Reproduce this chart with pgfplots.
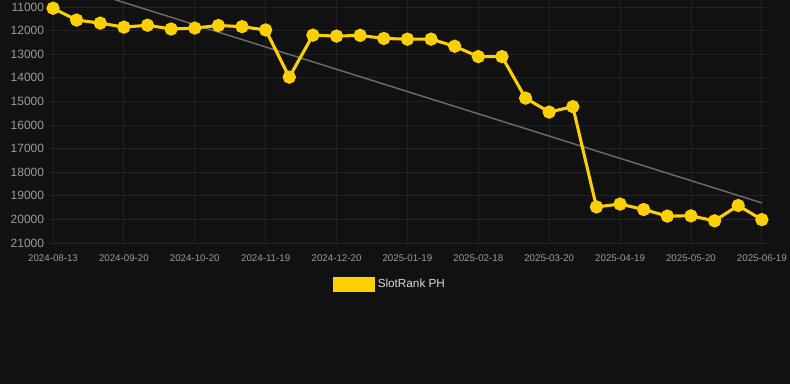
\documentclass[border=0pt]{standalone}
\usepackage{pgfplots}
\pgfplotsset{compat=1.18}
\usepackage{fontspec}
\setmainfont{Liberation Sans}
\definecolor{bg}{HTML}{111111}
\definecolor{ylw}{HTML}{FFD000}
\definecolor{grd}{HTML}{222222}
\definecolor{tck}{HTML}{9A9A9A}
\definecolor{trend}{HTML}{6A6A6A}
\begin{document}
\begin{tikzpicture}[x=1pt,y=1pt]
\useasboundingbox (0,0) rectangle (592.5,288);
\fill[bg] (0,0) rectangle (592.5,288);
\begin{axis}[
  at={(37.1pt,105.75pt)}, anchor=south west,
  scale only axis, width=539.6pt, height=182.25pt,
  xmin=-0.15, xmax=30.3,
  ymin=10700, ymax=21000, y dir=reverse,
  scaled y ticks=false,
  axis line style={draw=none},
  xtick={0,3,...,30},
  xticklabels={2024-08-13,2024-09-20,2024-10-20,2024-11-19,2024-12-20,2025-01-19,2025-02-18,2025-03-20,2025-04-19,2025-05-20,2025-06-19},
  ytick={11000,12000,...,21000},
  grid=major, major grid style={grd, line width=0.6pt},
  tick style={draw=none},
  /pgf/number format/assume math mode=true,
  /pgf/number format/set thousands separator={},
  yticklabel style={font=\fontsize{9}{10}\selectfont, text=tck, xshift=-0.5pt},
  xticklabel style={font=\fontsize{7.3}{9}\selectfont, text=tck, yshift=-5.5pt},
  legend style={at={(0.474,-0.169)}, anchor=center, draw=none, fill=none, text=white!85!black, font=\fontsize{8.8}{10}\selectfont},
  clip=true,
]
\addplot[trend, line width=1.1pt, forget plot] coordinates {(0,9860) (30,19300)};
\addplot[ylw, line width=2.3pt, mark=*, mark size=3.8pt, mark options={fill=ylw, draw=none},
  legend image code/.code={\fill[ylw] (-2pt,-4.5pt) rectangle (27pt,4.5pt);}]
coordinates {
(0,11050) (1,11550) (2,11680) (3,11850) (4,11770) (5,11930) (6,11890) (7,11780) (8,11830) (9,11970)
(10,13970) (11,12190) (12,12230) (13,12200) (14,12330) (15,12360) (16,12360) (17,12660) (18,13100) (19,13100)
(20,14860) (21,15450) (22,15220) (23,19470) (24,19350) (25,19580) (26,19860) (27,19850) (28,20060) (29,19410) (30,20010)
};
\addlegendentry{SlotRank PH}
\end{axis}
\end{tikzpicture}
\end{document}
